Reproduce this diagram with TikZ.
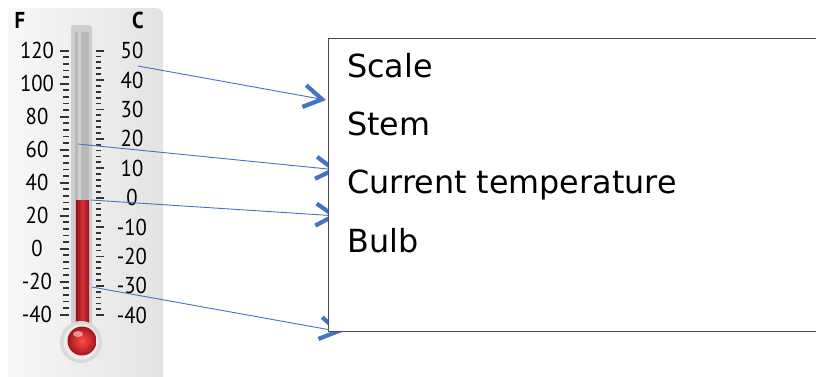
\documentclass[tikz,border=0pt]{standalone}
\usepackage{fontspec}
\setmainfont{DejaVu Sans}
\newfontfamily\dialfont[FakeStretch=0.9]{PT Sans}
\usetikzlibrary{arrows.meta,shadings}

\definecolor{arrowblue}{RGB}{68,114,196}
\definecolor{mercury}{RGB}{205,25,35}
\definecolor{glass}{RGB}{200,200,200}

\tikzset{
  tick/.style={line width=1.8pt,black!80},
  dial/.style={font=\dialfont\fontsize{23}{23}\selectfont,inner sep=0pt},
  pointer/.style={draw=arrowblue,line width=0.9pt,
    -{Straight Barb[length=18pt,width=22pt,line width=4.2pt]}},
  listbox/.style={draw=black!70,line width=1pt,fill=white,inner sep=0pt},
  item/.style={font=\fontsize{31.8}{38}\selectfont,inner sep=0pt,anchor=base west}
}

\begin{document}
\begin{tikzpicture}[x=1pt,y=-1pt]
  \useasboundingbox (0,0) rectangle (816,376);

  %panel
  \shade[left color=gray!6,right color=gray!22,rounded corners=7pt]
  (8,8) rectangle (163,400);
  \node[dial,font=\dialfont\bfseries\fontsize{23}{23}\selectfont] (fahr) at (20,20) {F};
  \node[dial,font=\dialfont\bfseries\fontsize{23}{23}\selectfont] (cels) at (138,20) {C};

  %ticks and numbers
  \foreach \f in {-40,-36,...,120}
  \draw[tick] (63,{50.7+(120-\f)*1.65}) -- (69,{50.7+(120-\f)*1.65});
  \foreach \f in {-40,-20,...,120}{
    \draw[tick] (60,{50.7+(120-\f)*1.65}) -- (69,{50.7+(120-\f)*1.65});
    \node[dial] (f\f) at (37,{50.7+(120-\f)*1.65}) {\f};
  }
  \foreach \c in {-40,-38,...,50}
  \draw[tick] (96,{80+(40-\c)*2.94}) -- (101,{80+(40-\c)*2.94});
  \foreach \c in {-40,-30,...,50}{
    \draw[tick] (96,{80+(40-\c)*2.94}) -- (104,{80+(40-\c)*2.94});
    \node[dial] (c\c) at (132,{80+(40-\c)*2.94}) {\c};
  }

  %tube
  \fill[glass!90,rounded corners=3pt] (71,25) rectangle (92,335);
  \fill[gray!55] (75,32) rectangle (89,330);
  \fill[white,opacity=0.35] (78,32) rectangle (81,330);
  \shade[left color=mercury!75!black,right color=mercury!75!black,middle color=mercury!90!white]
  (76,200) rectangle (89,335);

  %bulb
  \fill[gray!30] (81,342) circle (21);
  \fill[gray!15] (81,342) circle (17.5);
  \shade[inner color=red!70!white,outer color=mercury!80!black] (82,341) circle (14.5);
  \fill[white,opacity=0.5] (78,334) ellipse (5 and 3);

  %pointers
  \coordinate (scale) at (138,66);
  \coordinate (stem) at (78,144);
  \coordinate (level) at (91,200);
  \coordinate (bulb) at (92,287);
  \coordinate (scaleend) at (326,100);
  \coordinate (stemend) at (338,170);
  \coordinate (levelend) at (338,216);
  \coordinate (bulbend) at (342,332);
  \draw[pointer] (scale) -- (scaleend);
  \draw[pointer] (stem) -- (stemend);
  \draw[pointer] (level) -- (levelend);
  \draw[pointer] (bulb) -- (bulbend);

  %labels
  \node[listbox,anchor=north west,minimum width=520pt,minimum height=293pt]
  (list) at (328,38) {};
  \node[item] (lscale) at (347,77.3) {Scale};
  \node[item] (lstem) at (347,135.6) {Stem};
  \node[item] (llevel) at (347,193.9) {Current temperature};
  \node[item] (lbulb) at (347,252.2) {Bulb};
\end{tikzpicture}
\end{document}
